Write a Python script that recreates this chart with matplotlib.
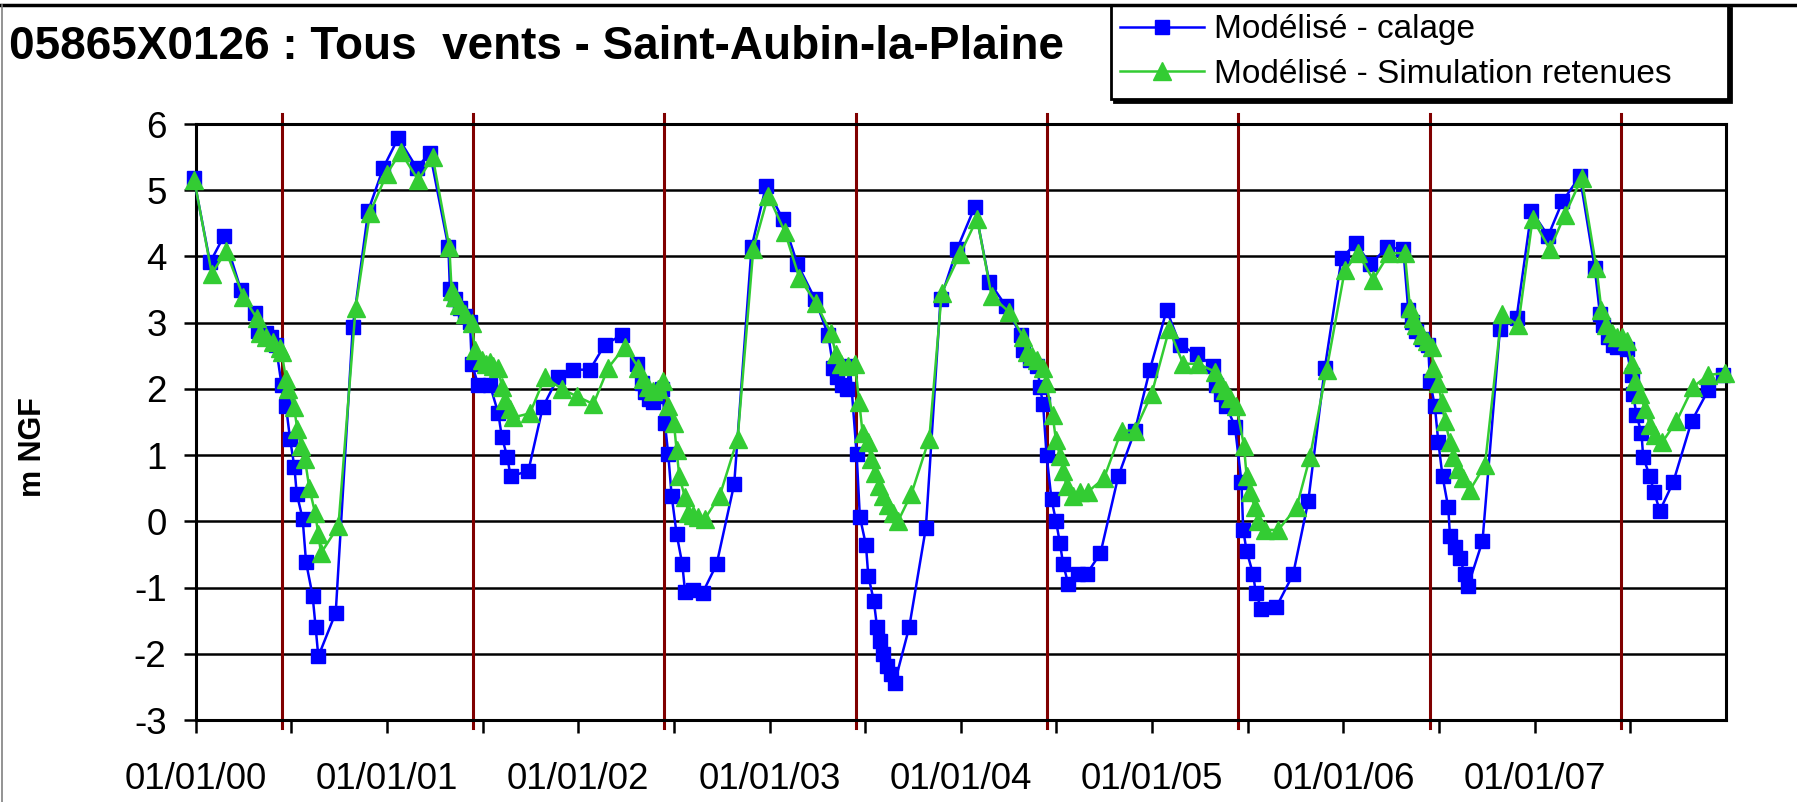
import matplotlib
matplotlib.use("Agg")
from matplotlib import pyplot as plt
from matplotlib.lines import Line2D

plt.rcParams['font.family'] = ['Liberation Sans', 'DejaVu Sans']
plt.rcParams['axes.unicode_minus'] = False

titre = "05865X0126 : Tous  vents - Saint-Aubin-la-Plaine"

# dates en années décimales, niveaux en m NGF
calage_x = [1999.99, 2000.075, 2000.148, 2000.237, 2000.312, 2000.328, 2000.37, 2000.395, 2000.418,
            2000.449, 2000.472, 2000.493, 2000.516, 2000.528, 2000.559, 2000.577, 2000.611, 2000.627,
            2000.641, 2000.732, 2000.821, 2000.902, 2000.981, 2001.059, 2001.155, 2001.225, 2001.321,
            2001.329, 2001.355, 2001.38, 2001.408, 2001.434, 2001.443, 2001.477, 2001.538, 2001.582,
            2001.6, 2001.629, 2001.646, 2001.739, 2001.814, 2001.895, 2001.974, 2002.061, 2002.139,
            2002.226, 2002.305, 2002.331, 2002.349, 2002.37, 2002.39, 2002.41, 2002.44, 2002.453,
            2002.47, 2002.488, 2002.514, 2002.544, 2002.558, 2002.601, 2002.65, 2002.723, 2002.815,
            2002.906, 2002.981, 2003.068, 2003.145, 2003.237, 2003.307, 2003.333, 2003.35, 2003.378,
            2003.403, 2003.42, 2003.455, 2003.472, 2003.504, 2003.516, 2003.545, 2003.562, 2003.576,
            2003.593, 2003.614, 2003.637, 2003.654, 2003.73, 2003.817, 2003.894, 2003.98, 2004.073,
            2004.148, 2004.236, 2004.312, 2004.326, 2004.361, 2004.4, 2004.413, 2004.43, 2004.448,
            2004.474, 2004.497, 2004.518, 2004.535, 2004.561, 2004.614, 2004.657, 2004.73, 2004.823,
            2004.91, 2004.988, 2005.076, 2005.145, 2005.232, 2005.32, 2005.336, 2005.362, 2005.388,
            2005.433, 2005.467, 2005.476, 2005.494, 2005.528, 2005.542, 2005.571, 2005.65, 2005.737,
            2005.816, 2005.903, 2005.99, 2006.065, 2006.141, 2006.229, 2006.313, 2006.339, 2006.356,
            2006.382, 2006.409, 2006.443, 2006.452, 2006.478, 2006.496, 2006.518, 2006.548, 2006.557,
            2006.583, 2006.609, 2006.635, 2006.652, 2006.727, 2006.818, 2006.905, 2006.983, 2007.07,
            2007.145, 2007.236, 2007.314, 2007.341, 2007.358, 2007.384, 2007.41, 2007.428, 2007.48,
            2007.506, 2007.515, 2007.532, 2007.558, 2007.567, 2007.602, 2007.623, 2007.654, 2007.724,
            2007.82, 2007.907, 2007.985]
calage_y = [5.18, 3.91, 4.31, 3.49, 3.15, 2.87, 2.84, 2.78, 2.67,
            2.06, 1.74, 1.25, 0.82, 0.42, 0.04, -0.62, -1.12, -1.60,
            -2.04, -1.38, 2.93, 4.69, 5.34, 5.79, 5.34, 5.56, 4.14,
            3.51, 3.36, 3.22, 3.10, 3.01, 2.38, 2.06, 2.06, 1.63,
            1.28, 0.97, 0.68, 0.76, 1.72, 2.18, 2.29, 2.29, 2.67,
            2.81, 2.38, 2.09, 1.95, 1.85, 1.80, 1.90, 2.00, 1.48,
            1.02, 0.39, -0.19, -0.65, -1.06, -1.03, -1.08, -0.65, 0.56,
            4.14, 5.06, 4.57, 3.89, 3.36, 2.81, 2.32, 2.18, 2.06,
            2.00, 2.35, 1.02, 0.07, -0.36, -0.82, -1.20, -1.60, -1.81,
            -2.01, -2.18, -2.30, -2.44, -1.60, -0.10, 3.36, 4.11, 4.75,
            3.62, 3.25, 2.81, 2.58, 2.44, 2.35, 2.03, 1.77, 1.00,
            0.33, 0.01, -0.33, -0.65, -0.94, -0.80, -0.80, -0.48, 0.68,
            1.37, 2.29, 3.19, 2.67, 2.52, 2.35, 2.06, 1.92, 1.74,
            1.43, 0.59, -0.13, -0.45, -0.80, -1.08, -1.32, -1.29, -0.80,
            0.30, 2.32, 3.97, 4.20, 3.88, 4.14, 4.11, 3.19, 3.01,
            2.87, 2.76, 2.67, 2.12, 1.74, 1.20, 0.68, 0.21, -0.22,
            -0.39, -0.56, -0.80, -0.97, -0.30, 2.90, 3.07, 4.69, 4.31,
            4.83, 5.21, 3.82, 3.13, 2.96, 2.78, 2.67, 2.64, 2.60,
            2.21, 1.92, 1.60, 1.34, 0.97, 0.68, 0.45, 0.16, 0.59,
            1.51, 1.98, 2.21]

retenue_x = [1999.993, 2000.084, 2000.159, 2000.249, 2000.319, 2000.336, 2000.368, 2000.402, 2000.441,
             2000.449, 2000.472, 2000.484, 2000.514, 2000.531, 2000.549, 2000.571, 2000.594, 2000.624,
             2000.641, 2000.655, 2000.746, 2000.836, 2000.911, 2000.998, 2001.071, 2001.164, 2001.239,
             2001.326, 2001.338, 2001.355, 2001.378, 2001.408, 2001.443, 2001.46, 2001.495, 2001.52,
             2001.538, 2001.556, 2001.582, 2001.6, 2001.617, 2001.643, 2001.66, 2001.747, 2001.826,
             2001.913, 2001.991, 2002.079, 2002.157, 2002.244, 2002.314, 2002.34, 2002.366, 2002.392,
             2002.418, 2002.444, 2002.47, 2002.5, 2002.514, 2002.528, 2002.558, 2002.575, 2002.601,
             2002.627, 2002.662, 2002.74, 2002.833, 2002.915, 2002.993, 2003.08, 2003.155, 2003.242,
             2003.321, 2003.347, 2003.376, 2003.411, 2003.446, 2003.469, 2003.486, 2003.516, 2003.528,
             2003.55, 2003.573, 2003.594, 2003.62, 2003.646, 2003.673, 2003.742, 2003.835, 2003.9,
             2003.995, 2004.085, 2004.161, 2004.253, 2004.326, 2004.344, 2004.37, 2004.4, 2004.431,
             2004.445, 2004.48, 2004.497, 2004.518, 2004.535, 2004.553, 2004.584, 2004.622, 2004.666,
             2004.748, 2004.84, 2004.91, 2004.997, 2005.089, 2005.162, 2005.24, 2005.328, 2005.354,
             2005.38, 2005.406, 2005.441, 2005.48, 2005.494, 2005.511, 2005.537, 2005.555, 2005.59,
             2005.659, 2005.755, 2005.825, 2005.912, 2006.007, 2006.077, 2006.155, 2006.24, 2006.321,
             2006.348, 2006.365, 2006.382, 2006.409, 2006.435, 2006.461, 2006.47, 2006.496, 2006.513,
             2006.531, 2006.557, 2006.574, 2006.6, 2006.626, 2006.661, 2006.74, 2006.827, 2006.914,
             2006.989, 2007.079, 2007.158, 2007.245, 2007.323, 2007.349, 2007.375, 2007.402, 2007.428,
             2007.454, 2007.48, 2007.506, 2007.524, 2007.55, 2007.576, 2007.602, 2007.628, 2007.668,
             2007.741, 2007.828, 2007.907, 2007.994]
retenue_y = [5.15, 3.74, 4.08, 3.39, 3.07, 2.84, 2.78, 2.71, 2.61,
             2.55, 2.15, 2.00, 1.72, 1.40, 1.14, 0.94, 0.50, 0.13,
             -0.19, -0.48, -0.07, 3.22, 4.66, 5.24, 5.58, 5.15, 5.50,
             4.14, 3.48, 3.39, 3.27, 3.13, 2.99, 2.58, 2.44, 2.38,
             2.41, 2.35, 2.32, 2.03, 1.83, 1.69, 1.57, 1.63, 2.18,
             2.00, 1.89, 1.77, 2.32, 2.64, 2.32, 2.15, 2.03, 1.97,
             2.00, 2.12, 1.74, 1.48, 1.08, 0.68, 0.36, 0.13, 0.10,
             0.07, 0.04, 0.39, 1.25, 4.11, 4.92, 4.37, 3.68, 3.30,
             2.84, 2.52, 2.38, 2.35, 2.38, 1.80, 1.34, 1.20, 0.94,
             0.73, 0.53, 0.39, 0.24, 0.13, 0.01, 0.42, 1.25, 3.45,
             4.03, 4.57, 3.40, 3.16, 2.78, 2.55, 2.50, 2.44, 2.32,
             2.09, 1.60, 1.23, 0.99, 0.76, 0.53, 0.39, 0.45, 0.45,
             0.65, 1.37, 1.37, 1.92, 2.90, 2.38, 2.38, 2.26, 2.09,
             1.98, 1.86, 1.74, 1.14, 0.68, 0.45, 0.21, 0.01, -0.13,
             -0.13, 0.21, 0.97, 2.29, 3.79, 4.05, 3.65, 4.05, 4.05,
             3.22, 3.07, 2.96, 2.81, 2.73, 2.64, 2.32, 2.09, 1.80,
             1.51, 1.20, 0.97, 0.79, 0.65, 0.47, 0.85, 3.13, 2.96,
             4.57, 4.11, 4.63, 5.18, 3.82, 3.19, 2.96, 2.84, 2.78,
             2.78, 2.73, 2.38, 2.12, 1.92, 1.69, 1.46, 1.31, 1.20,
             1.51, 2.03, 2.21, 2.24]

annees = [2000, 2001, 2002, 2003, 2004, 2005, 2006, 2007]
annees_labels = ["01/01/00", "01/01/01", "01/01/02", "01/01/03",
                 "01/01/04", "01/01/05", "01/01/06", "01/01/07"]
demi_annees = [2000.5, 2001.5, 2002.5, 2003.5, 2004.5, 2005.5, 2006.5, 2007.5]
traits_rouges = [2000.45, 2001.45, 2002.45, 2003.45, 2004.45, 2005.45, 2006.45, 2007.45]
niveaux = [-3, -2, -1, 0, 1, 2, 3, 4, 5, 6]

W, H = 1797, 802
fig = plt.figure(figsize=(W / 100, H / 100), dpi=100)
ax = fig.add_axes([195.7 / W, 1 - 720 / H, (1726 - 195.7) / W, (720 - 124) / H])

ax.set_xlim(2000, 2008)
ax.set_ylim(-3, 6)
ax.set_yticks(niveaux)
ax.set_xticks(annees)
ax.set_xticklabels(annees_labels)
ax.set_xticks(demi_annees, minor=True)
ax.tick_params(axis='both', which='both', direction='out', length=9, width=1.8, color='black')
ax.tick_params(axis='x', which='major', labelsize=26.5, pad=21)
ax.tick_params(axis='y', labelsize=26.5, pad=12)

ax.set_axisbelow(True)
ax.grid(axis='y', color='black', lw=1.8, zorder=0.5)
for sp in ax.spines.values():
    sp.set_linewidth(2.2)
    sp.set_color('black')

for x in traits_rouges:
    ax.axvline(x, ymin=-0.013, ymax=1.017, color='#800000', lw=2.2, clip_on=False, zorder=1)

ax.plot(calage_x, calage_y, color='#0000FF', lw=1.8, marker='s', ms=10.5, mec='#0000FF',
        mfc='#0000FF', clip_on=False, zorder=3, label="Modélisé - calage")
ax.plot(retenue_x, retenue_y, color='#33CC33', lw=1.8, marker='^', ms=12.5, mec='#33CC33',
        mfc='#33CC33', clip_on=False, zorder=4, label="Modélisé - Simulation retenues")

leg = ax.legend(loc='upper left', bbox_to_anchor=(1111 / W, 1 - 5 / H, (1728 - 1111) / W, 0),
                bbox_transform=fig.transFigure, mode='expand', borderaxespad=0, fontsize=24,
                handlelength=2.5, handletextpad=0.3, borderpad=0.28, labelspacing=0.41,
                fancybox=False, shadow={'color': 'black', 'alpha': 1}, framealpha=1)
leg.get_frame().set_edgecolor('black')
leg.get_frame().set_linewidth(2)

fig.text(9 / W, 1 - 47 / H, titre, fontsize=33, weight='bold', ha='left', va='center')
fig.text(33 / W, 1 - 447 / H, "m NGF", fontsize=22, weight='bold', rotation=90,
         ha='center', va='center')

# bord du cadre de la capture
fig.add_artist(Line2D([0, 1], [1 - 5 / H, 1 - 5 / H], transform=fig.transFigure, color='black', lw=2.5))
fig.add_artist(Line2D([1.5 / W, 1.5 / W], [0, 1 - 5 / H], transform=fig.transFigure, color='#808080', lw=1.2))

fig.savefig('out.png', dpi=100)
